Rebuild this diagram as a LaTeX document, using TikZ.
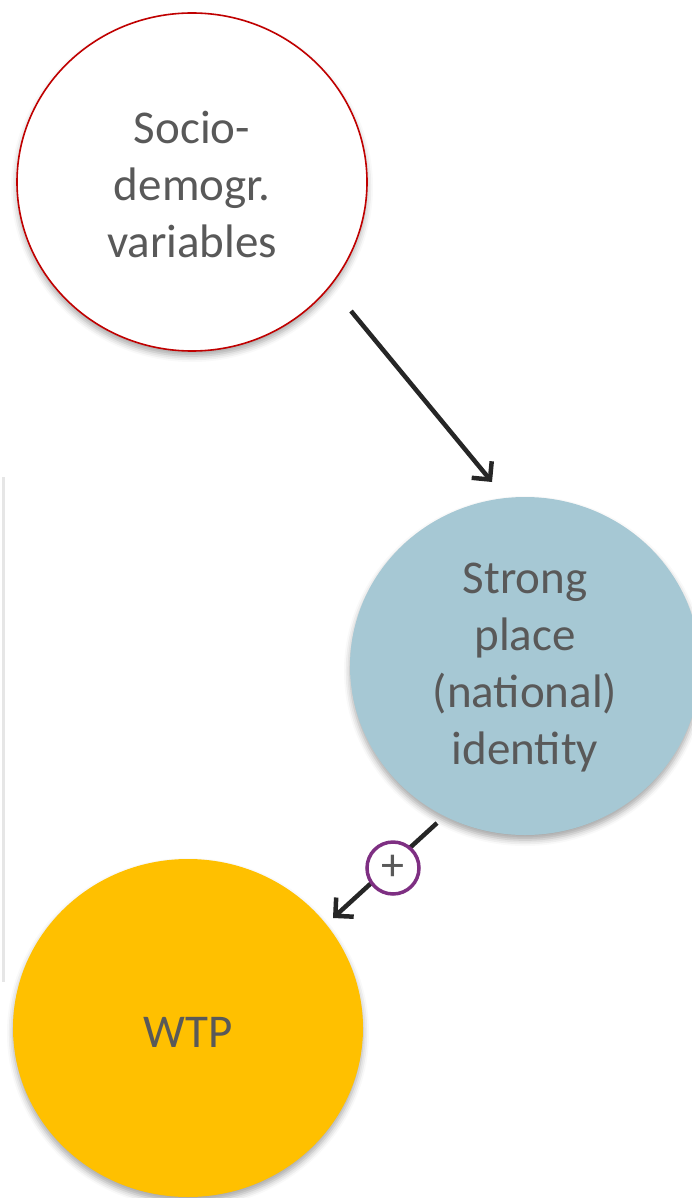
\documentclass[tikz,border=0pt]{standalone}
\usepackage{fontspec}
\setmainfont{Carlito}
\usetikzlibrary{arrows.meta,shapes.geometric,shadows.blur}

\definecolor{txtgray}{HTML}{595959}
\definecolor{ringred}{HTML}{C00000}
\definecolor{placeblue}{HTML}{A6C8D4}
\definecolor{wtpgold}{HTML}{FFC000}
\definecolor{arrowdark}{HTML}{262626}
\definecolor{signpurple}{HTML}{7E2F82}
\definecolor{rulegray}{HTML}{E6E6E6}

\tikzset{
  bubble/.style={ellipse, minimum width=350pt, minimum height=338pt, inner sep=0pt,
    blur shadow={shadow xshift=0pt, shadow yshift=-5pt, shadow blur radius=6pt, shadow opacity=35}},
  label/.style={text=txtgray, align=center, font=\fontsize{47}{57}\selectfont},
  link/.style={draw=arrowdark, line width=4.5pt,
    -{Straight Barb[length=13pt,width=26pt,line width=4.5pt]}},
  signring/.style={circle, draw=signpurple, fill=white, line width=3.5pt,
    minimum size=52pt, inner sep=0pt, text=txtgray, font=\fontsize{46}{46}\selectfont},
}

\begin{document}
\begin{tikzpicture}[x=1pt,y=-1pt]
  \useasboundingbox (0,0) rectangle (692,1198);
  \clip (0,0) rectangle (692,1198);

  % thin rule along the left border
  \draw[rulegray, line width=3pt] (3.5,477) -- (3.5,982);

  % the three variables
  \node[bubble, draw=ringred, line width=1.6pt, fill=white] (socio) at (192,182) {};
  \node[bubble, fill=placeblue] (place) at (525,666) {};
  \node[bubble, fill=wtpgold] (wtp) at (188,1028) {};

  \node[label] (sociotext) at (socio.center) [yshift=-3pt] {Socio-\\demogr.\\variables};
  \node[label] (placetext) at (place.center) [yshift=-2pt] {Strong\\place\\(national)\\identity};
  \node[label] (wtptext) at (wtp.center) [yshift=-4pt] {WTP};

  % causal links
  \coordinate (s1) at (351,311);
  \coordinate (e1) at (492,482);
  \draw[link] (s1) -- (e1);

  \coordinate (s2) at (437,823);
  \coordinate (e2) at (333,918);
  \draw[link] (s2) -- (e2);
  \node[signring] (sign) at (393,868) {+};
\end{tikzpicture}
\end{document}
